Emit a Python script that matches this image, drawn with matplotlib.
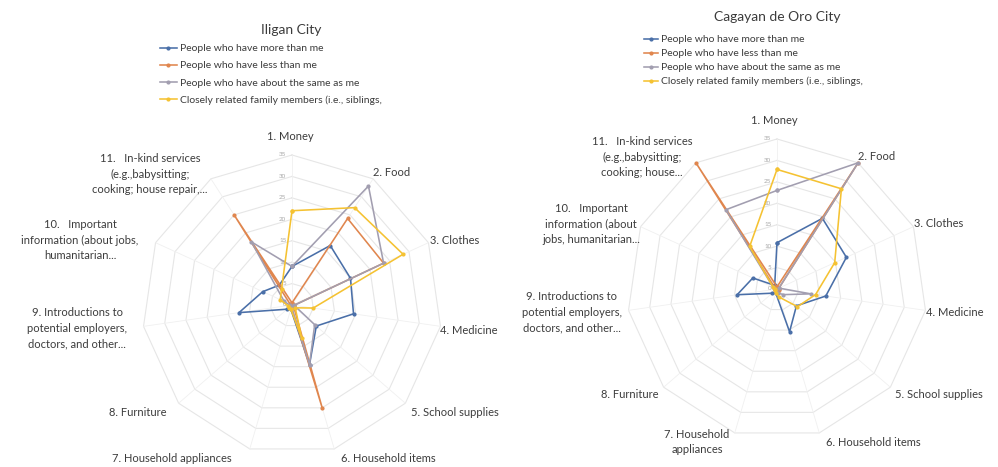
import numpy as np
import matplotlib
matplotlib.use("Agg")
import matplotlib.pyplot as plt
from matplotlib.lines import Line2D

plt.rcParams['font.family'] = ['Lato', 'DejaVu Sans']

# ---------------- data ----------------
categories_left = [
    "1. Money", "2. Food", "3. Clothes", "4. Medicine", "5. School supplies",
    "6. Household items", "7. Household appliances", "8. Furniture",
    "9. Introductions to\npotential employers,\ndoctors, and other...",
    "10.   Important\ninformation (about jobs,\nhumanitarian...",
    "11.   In-kind services\n(e.g.,babysitting;\ncooking; house repair,...",
]
categories_right = [
    "1. Money", "2. Food", "3. Clothes", "4. Medicine", "5. School supplies",
    "6. Household items", "7. Household\nappliances", "8. Furniture",
    "9. Introductions to\npotential employers,\ndoctors, and other...",
    "10.   Important\ninformation (about\njobs, humanitarian...",
    "11.   In-kind services\n(e.g.,babysitting;\ncooking; house...",
]
series_names = [
    "People who have more than me",
    "People who have less than me",
    "People who have about the same as me",
    "Closely related family members (i.e., siblings,",
]
radial_ticks = [0, 5, 10, 15, 20, 25, 30, 35]

# Iligan City
iligan_more = [9, 16.5, 15, 14.5, 7.5, 14.5, 1, 1.5, 12.5, 7.5, 5.5]
iligan_less = [0.5, 24, 23.5, 0.5, 0.5, 25, 0.5, 0.5, 0.5, 0.5, 25]
iligan_same = [9, 33, 23.5, 0.5, 7, 14.5, 0.5, 0.5, 0.5, 2, 17.5]
iligan_family = [22, 27, 28.5, 5, 1, 8, 1, 1, 1, 3, 4.5]

# Cagayan de Oro City
cdo_more = [10.8, 19.6, 17.8, 11.5, 6, 10.4, 1, 1.5, 9.4, 6.2, 1]
cdo_less = [0.5, 35, 0.5, 0.5, 0.5, 0.5, 0.5, 0.5, 0.5, 0.5, 35]
cdo_same = [23, 35, 0.5, 8, 2, 1, 0.5, 0.5, 0.5, 1, 22]
cdo_family = [27.9, 27.8, 14.8, 9.1, 6.3, 2, 1, 0.5, 0.5, 1, 11.8]

colors = ['#4A6FA8', '#E0864E', '#A29EB0', '#F5C232']

W, H = 998, 467
fig = plt.figure(figsize=(W / 100, H / 100), dpi=100)


def fx(x):
    return x / W


def fy(y):
    return 1 - y / H


def radar(cx, cy, R, series):
    ax = fig.add_axes([(cx - R) / W, (H - cy - R) / H, 2 * R / W, 2 * R / H],
                      projection='polar')
    ax.set_theta_zero_location('N')
    ax.set_theta_direction(-1)
    ax.set_ylim(0, radial_ticks[-1])
    ax.grid(False)
    ax.spines['polar'].set_visible(False)
    ax.set_xticks([])
    ax.set_yticks([])
    ax.patch.set_alpha(0)
    n = len(series[0])
    ang = np.arange(n) * 2 * np.pi / n
    angc = np.append(ang, ang[0])
    for t in radial_ticks[1:]:
        ax.plot(angc, [t] * (n + 1), color='#E6E6E6', lw=0.8, zorder=1, clip_on=False)
    for a in ang:
        ax.plot([a, a], [0, radial_ticks[-1]], color='#F0F0F0', lw=0.6, zorder=1, clip_on=False)
    for t in radial_ticks:
        ax.annotate(str(t), xy=(0, t), xytext=(-4, 0), textcoords='offset points',
                    ha='right', va='center', fontsize=4.5, color='#A8A8A8')
    for vals, c in zip(series, colors):
        v = np.append(vals, vals[0])
        ax.plot(angc, v, color=c, lw=1.15, marker='o', ms=2.0, zorder=3, clip_on=False)
    return ax


radar(292, 305, 150, [iligan_more, iligan_less, iligan_same, iligan_family])
radar(777, 289, 150, [cdo_more, cdo_less, cdo_same, cdo_family])

txt_kw = dict(ha='center', va='center', fontsize=8, color='#3C3C3C', linespacing=1.55)

left_pos = [(290, 137), (392, 173), (455, 240), (469, 330), (455, 412), (388, 458),
            (172, 458), (138, 412), (77, 328), (80, 240), (150, 174)]
right_pos = [(774, 121), (877, 156), (939, 223), (955, 313), (939, 395), (873, 443),
             (697, 442), (630, 395), (572, 312), (591, 224), (642, 157)]
for s, (x, y) in zip(categories_left, left_pos):
    fig.text(fx(x), fy(y), s, **txt_kw)
for s, (x, y) in zip(categories_right, right_pos):
    fig.text(fx(x), fy(y), s, **txt_kw)

fig.text(fx(291), fy(30), "Iligan City", ha='center', va='center', fontsize=10, color='#3C3C3C')
fig.text(fx(777), fy(17), "Cagayan de Oro City", ha='center', va='center', fontsize=10, color='#3C3C3C')

handles = [Line2D([], [], color=c, lw=1.15, marker='o', ms=2.0) for c in colors]
fig.legend(handles, series_names, loc='upper left', bbox_to_anchor=(fx(160), fy(44)),
           frameon=False, fontsize=7.5, handlelength=1.6, handletextpad=0.3,
           labelspacing=0.75, borderpad=0, borderaxespad=0, labelcolor='#3C3C3C')
fig.legend(handles, series_names, loc='upper left', bbox_to_anchor=(fx(644), fy(35)),
           frameon=False, fontsize=7.5, handlelength=1.3, handletextpad=0.3,
           labelspacing=0.45, borderpad=0, borderaxespad=0, labelcolor='#3C3C3C')

fig.savefig("out.png", dpi=100)
